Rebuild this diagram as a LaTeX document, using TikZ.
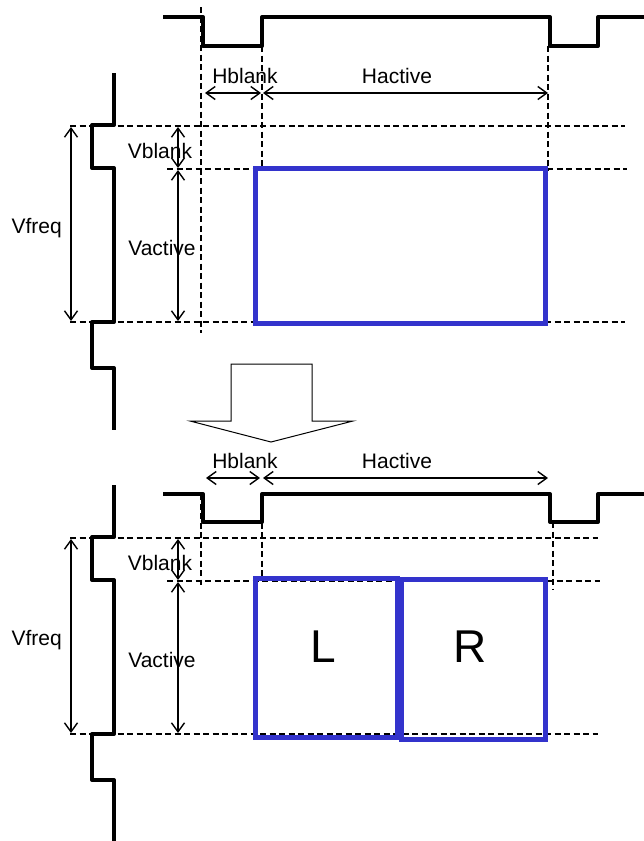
\documentclass[tikz,border=0pt]{standalone}
\usepackage{fontspec}
\setmainfont{Liberation Sans}
\usetikzlibrary{arrows.meta}
\definecolor{boxblue}{RGB}{51,51,204}

\begin{document}
\begin{tikzpicture}[x=1pt,y=-1pt,
		wave/.style={line width=4pt,line join=round},
		guide/.style={line width=1.1pt,dash pattern=on 6pt off 3.5pt},
		dim/.style={line width=1.4pt,{Straight Barb[length=9pt,width=13pt]}-{Straight Barb[length=9pt,width=13pt]}},
		frame/.style={draw=boxblue,line width=5pt},
		lbl/.style={font=\fontsize{21}{25}\selectfont,anchor=base,inner sep=0pt},
		big/.style={font=\fontsize{46}{50}\selectfont,anchor=base,inner sep=0pt}]
		\useasboundingbox (0,0) rectangle (644,841);
		
		% Vertical sync and its dimensions, upper and lower copy
		\foreach \n/\o/\r in {t/0/625,b/412/598}{
			\draw[wave] (114,73+\o) -- (114,125+\o) -- (92,125+\o) -- (92,168+\o) -- (114,168+\o)
				-- (114,322+\o) -- (92,322+\o) -- (92,368+\o) -- (114,368+\o) -- (114,430+\o);
			
			% Dashed guides
			\draw[guide] (70,126+\o) -- (\r,126+\o);
			\draw[guide] (167,169+\o) -- (\r+2,169+\o);
			\draw[guide] (70,322+\o) -- (\r,322+\o);
			
			% Arrow end points
			\coordinate (vf1\n) at (71,127+\o);
			\coordinate (vf2\n) at (71,321+\o);
			\coordinate (vb1\n) at (178,127+\o);
			\coordinate (vb2\n) at (178,168+\o);
			\coordinate (va1\n) at (178,170+\o);
			\coordinate (va2\n) at (178,321+\o);
			\draw[dim] (vf1\n) -- (vf2\n);
			\draw[dim] (vb1\n) -- (vb2\n);
			\draw[dim] (va1\n) -- (va2\n);
			
			% Labels
			\node[lbl,anchor=base east] (vfreq\n) at (62,233+\o) {Vfreq};
			\node[lbl] (vblank\n) at (160,158+\o) {Vblank};
			\node[lbl] (vactive\n) at (162,255+\o) {Vactive};
		}
		
		% Upper horizontal sync
		\draw[wave] (163,17) -- (203,17) -- (203,46) -- (262,46) -- (262,17) -- (550,17)
			-- (550,46) -- (598,46) -- (598,17) -- (646,17);
		\draw[guide] (201,7) -- (201,333);
		\draw[guide] (262,46) -- (262,168);
		\draw[guide] (548,46) -- (548,170);
		
		\coordinate (hb1t) at (205,93);
		\coordinate (hb2t) at (261,93);
		\coordinate (ha1t) at (263,93);
		\coordinate (ha2t) at (548,93);
		\draw[dim] (hb1t) -- (hb2t);
		\draw[dim] (ha1t) -- (ha2t);
		\node[lbl] (hblankt) at (245,83) {Hblank};
		\node[lbl] (hactivet) at (397,83) {Hactive};
		
		% Active picture
		\draw[frame] (255,168) rectangle (545,323);
		
		% Big arrow down
		\draw[line width=1pt] (231,364) -- (312,364) -- (312,421) -- (353,421) -- (271,442)
			-- (190,421) -- (231,421) -- cycle;
		
		% Lower horizontal sync
		\draw[wave] (163,494) -- (203,494) -- (203,522) -- (262,522) -- (262,494) -- (550,494)
			-- (550,522) -- (598,522) -- (598,494) -- (646,494);
		\draw[guide] (201,494) -- (201,585);
		\draw[guide] (262,494) -- (262,578);
		\draw[guide] (553,522) -- (553,590);
		
		\coordinate (hb1b) at (206,478);
		\coordinate (hb2b) at (260,478);
		\coordinate (ha1b) at (263,478);
		\coordinate (ha2b) at (548,478);
		\draw[dim] (hb1b) -- (hb2b);
		\draw[dim] (ha1b) -- (ha2b);
		\node[lbl] (hblankb) at (245,468) {Hblank};
		\node[lbl] (hactiveb) at (397,468) {Hactive};
		
		% Left and right pictures
		\draw[frame] (255,578) rectangle (397,737);
		\draw[frame] (401,579) rectangle (545,739);
		\node[big] (left) at (323,662) {L};
		\node[big] (right) at (470,662) {R};
		
	\end{tikzpicture}
\end{document}
